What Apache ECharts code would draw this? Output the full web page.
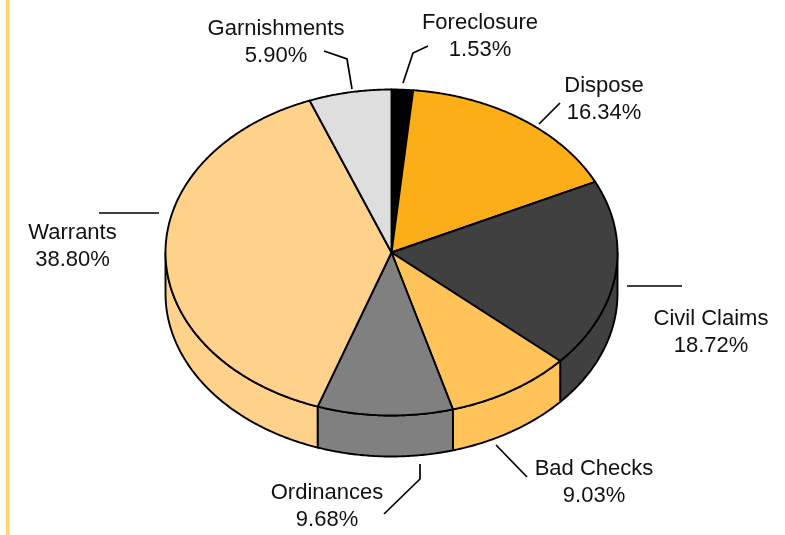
<!DOCTYPE html>
<html>
<head>
<meta charset="utf-8">
<style>
  html, body { margin: 0; padding: 0; background: #fff; }
  #chart { width: 785px; height: 535px; }
</style>
</head>
<body>
<div id="chart"></div>
<script src="https://cdn.jsdelivr.net/npm/echarts@6/dist/echarts.min.js"></script>
<script>
// chart data, clockwise from 12 o'clock
const categories = ['Foreclosure', 'Dispose', 'Civil Claims', 'Bad Checks', 'Ordinances', 'Warrants', 'Garnishments'];
const shares = [1.53, 16.34, 18.72, 9.03, 9.68, 38.80, 5.90];
const colors = ['#000000', '#fbae17', '#404040', '#ffc35a', '#808080', '#fed28b', '#dedede'];

// label centres and leader lines, same order as categories
const labelCenters = [[480, 36], [604, 99], [711, 332], [594, 482], [327, 506], [72.5, 246], [276, 42]];
const leaders = [
  [[428, 46], [413, 53], [403, 83]],
  [[560, 103], [539, 124]],
  [[627, 286], [682, 286]],
  [[496, 445], [527, 477]],
  [[420, 464], [420, 479], [384, 514]],
  [[99, 213], [159, 213]],
  [[324, 51], [347, 59], [352, 89]]
];

// tilted disc
const CX = 391.5, CY = 252.5, RX = 226, RY = 163, DEPTH = 41;
const STROKE = { stroke: '#000', lineWidth: 1.9, lineJoin: 'round' };

const total = shares.reduce((a, b) => a + b, 0);
const bounds = [0];
shares.forEach((v, i) => bounds.push(bounds[i] + v / total * 360));

// point on the rim, angle in degrees clockwise from the top
const rim = (deg, dy = 0) => {
  const r = deg * Math.PI / 180;
  return [CX + RX * Math.sin(r), CY - RY * Math.cos(r) + dy];
};

const arc = (from, to, dy = 0) => {
  const pts = [];
  const steps = Math.max(2, Math.ceil((to - from) * 2));
  for (let i = 0; i <= steps; i++) pts.push(rim(from + (to - from) * i / steps, dy));
  return pts;
};

const chartData = shares.map((v, i) => ({ name: categories[i], value: v }));

const renderWall = (params) => {
  const i = params.dataIndex;
  // only the near half of the rim is visible
  const from = Math.max(bounds[i], 90);
  const to = Math.min(bounds[i + 1], 270);
  if (from >= to) return { type: 'group', children: [] };
  const points = arc(from, to).concat(arc(from, to, DEPTH).reverse());
  return {
    type: 'polygon',
    shape: { points },
    style: Object.assign({ fill: colors[i] }, STROKE)
  };
};

const renderTop = (params) => {
  const i = params.dataIndex;
  const points = [[CX, CY]].concat(arc(bounds[i], bounds[i + 1]));
  return {
    type: 'polygon',
    shape: { points },
    style: Object.assign({ fill: colors[i] }, STROKE)
  };
};

const renderLabel = (params, api) => {
  const i = params.dataIndex;
  return {
    type: 'group',
    children: [
      {
        type: 'polyline',
        shape: { points: leaders[i] },
        style: { stroke: '#000', lineWidth: 1.7, fill: null }
      },
      {
        type: 'text',
        x: labelCenters[i][0],
        y: labelCenters[i][1],
        style: {
          text: categories[i] + '\n' + api.value(1).toFixed(2) + '%',
          fill: '#111',
          font: '22px "Liberation Sans", Arial, sans-serif',
          lineHeight: 27,
          align: 'center',
          verticalAlign: 'middle'
        }
      }
    ]
  };
};

const customSeries = (renderItem) => ({
  type: 'custom',
  coordinateSystem: 'none',
  renderItem,
  silent: true,
  encode: { itemName: 0, value: 1 },
  data: chartData.map(d => [d.name, d.value])
});

const myChart = echarts.init(document.getElementById('chart'), null, { renderer: 'canvas' });
myChart.setOption({
  backgroundColor: '#ffffff',
  animation: false,
  graphic: [{
    type: 'rect',
    shape: { x: 6, y: 0, width: 3.5, height: 535 },
    style: { fill: '#ffd36e' }
  }],
  series: [customSeries(renderWall), customSeries(renderTop), customSeries(renderLabel)]
});
</script>
</body>
</html>
